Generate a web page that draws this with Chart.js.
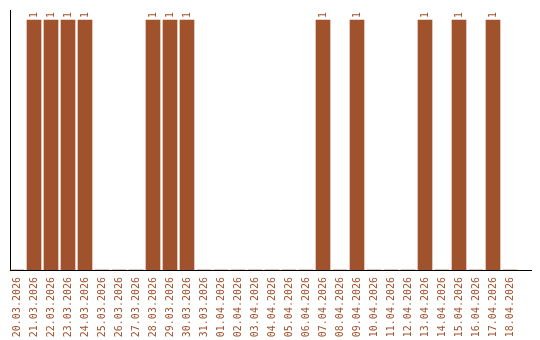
<!DOCTYPE html>
<html>
<head>
<meta charset="utf-8">
<script src="https://cdn.jsdelivr.net/npm/chart.js@4/dist/chart.umd.min.js"></script>
<style>
  html, body { margin: 0; padding: 0; background: #fff; overflow: hidden; }
  canvas { display: block; }
</style>
</head>
<body>
<canvas id="canvas" width="540" height="340"></canvas>
<script>
const days = [
    '20.03.2026', '21.03.2026', '22.03.2026', '23.03.2026', '24.03.2026',
    '25.03.2026', '26.03.2026', '27.03.2026', '28.03.2026', '29.03.2026',
    '30.03.2026', '31.03.2026', '01.04.2026', '02.04.2026', '03.04.2026',
    '04.04.2026', '05.04.2026', '06.04.2026', '07.04.2026', '08.04.2026',
    '09.04.2026', '10.04.2026', '11.04.2026', '12.04.2026', '13.04.2026',
    '14.04.2026', '15.04.2026', '16.04.2026', '17.04.2026', '18.04.2026'
];
const counts = [
    0, 1, 1, 1, 1,
    0, 0, 0, 1, 1,
    1, 0, 0, 0, 0,
    0, 0, 0, 1, 0,
    1, 0, 0, 0, 1,
    0, 1, 0, 1, 0
];
const brown = '#a0522d';
const labelFont = '10px "DejaVu Sans Mono"';

// little "1" above every bar, written upwards
const barValues = {
    id: 'barValues',
    afterDatasetsDraw(chart){
        const ctx = chart.ctx;
        const meta = chart.getDatasetMeta(0);
        ctx.save();
        ctx.font = labelFont;
        ctx.fillStyle = brown;
        ctx.textAlign = 'left';
        ctx.textBaseline = 'middle';
        meta.data.forEach((bar, i) => {
            if (!counts[i]) return;
            ctx.save();
            ctx.translate(bar.x, bar.y - 2);
            ctx.rotate(-Math.PI / 2);
            ctx.fillText(String(counts[i]), 0, 0);
            ctx.restore();
        });
        ctx.restore();
    }
};

const ctx = document.getElementById('canvas').getContext('2d');
const myChart = new Chart(ctx, {
    type: 'bar',
    data: {
        datasets: [{
            data: counts.map((c, i) => ({x: i, y: c})),
            backgroundColor: brown,
            borderWidth: 0,
            barThickness: 14
        }]
    },
    options: {
        responsive: false,
        animation: false,
        layout: {
            padding: {left: 10, right: 9, top: 10, bottom: 0}
        },
        plugins: {
            legend: {display: false},
            tooltip: {enabled: false}
        },
        scales: {
            x: {
                type: 'linear',
                offset: false,
                // a bit of room left of the first day, a longer tail after the last
                min: -7 / 17,
                max: 514 / 17,
                afterBuildTicks: (scale) => {
                    scale.ticks = days.map((d, i) => ({value: i}));
                },
                afterFit: (scale) => {
                    scale.height = 70;
                    scale.paddingLeft = 0;
                    scale.paddingRight = 0;
                },
                grid: {display: false, drawTicks: false},
                border: {display: true, color: '#000', width: 1},
                ticks: {
                    autoSkip: false,
                    minRotation: 90,
                    maxRotation: 90,
                    padding: 7,
                    color: brown,
                    font: {family: 'DejaVu Sans Mono', size: 10},
                    callback: (v) => days[v]
                }
            },
            y: {
                min: 0,
                max: 1.04,
                afterFit: (scale) => {
                    scale.width = 0;
                },
                grid: {display: false, drawTicks: false},
                border: {display: true, color: '#000', width: 1},
                ticks: {display: false}
            }
        }
    },
    plugins: [barValues]
});
</script>
</body>
</html>
